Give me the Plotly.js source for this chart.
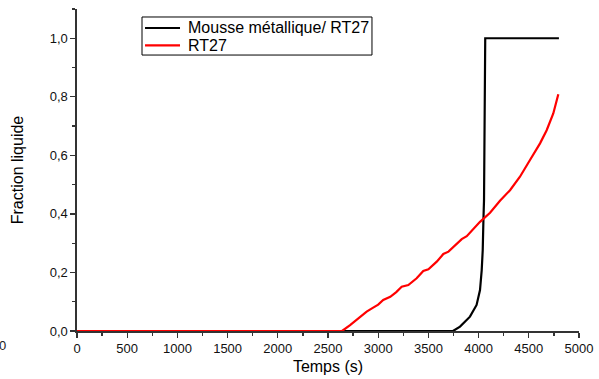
<!DOCTYPE html>
<html>
<head>
<meta charset="utf-8">
<script src="https://cdn.plot.ly/plotly-3.0.1.min.js"></script>
<style>
  html, body { margin: 0; padding: 0; background: #fff; }
  #chart { width: 599px; height: 379px; }
</style>
</head>
<body>
<div id="chart"></div>
<script>
// Liquid fraction over time (s)
const seriesNames = ["Mousse métallique/ RT27", "RT27"];
const seriesColors = ["#000000", "#ff0000"];

const foamTime = [0, 3745, 3815, 3914, 3980, 4014, 4031, 4041, 4048, 4054, 4066, 4080, 4800];
const foamFrac = [0, 0, 0.015, 0.049, 0.089, 0.14, 0.208, 0.276, 0.379, 0.447, 1.0, 1.0, 1.0];

const pcmTime = [0, 2640, 2720, 2800, 2885, 2950, 3000, 3050, 3120, 3180, 3234, 3300, 3383, 3449,
                 3500, 3583, 3649, 3700, 3750, 3832, 3882, 3948, 4014, 4114, 4213, 4313, 4412,
                 4512, 4612, 4678, 4744, 4794];
const pcmFrac = [0, 0, 0.02, 0.043, 0.066, 0.08, 0.09, 0.106, 0.117, 0.133, 0.151, 0.157, 0.18, 0.205,
                 0.211, 0.237, 0.263, 0.271, 0.288, 0.314, 0.324, 0.347, 0.373, 0.404, 0.445, 0.481, 0.527,
                 0.584, 0.641, 0.686, 0.743, 0.809];

const xTickVals = [0, 500, 1000, 1500, 2000, 2500, 3000, 3500, 4000, 4500, 5000];
const yTickVals = [0, 0.2, 0.4, 0.6, 0.8, 1.0];

const axisColor = "#333";
const family = "'Liberation Sans', Arial, sans-serif";
const tickFont = { family: family, size: 13, color: "#111" };
const titleFont = { family: family, size: 16, color: "#000" };

const traces = [
  { x: foamTime, y: foamFrac, name: seriesNames[0], type: "scatter", mode: "lines",
    line: { color: seriesColors[0], width: 2.2 } },
  { x: pcmTime, y: pcmFrac, name: seriesNames[1], type: "scatter", mode: "lines",
    line: { color: seriesColors[1], width: 2.2 } }
];

// Boxed key in the upper-left of the plot area (paper coordinates)
const key = { x0: 0.1295, x1: 0.5876, y0: 0.857, y1: 0.9752,
              lineX0: 0.1355, lineX1: 0.2052, textX: 0.2171, rows: [0.941, 0.887] };

const shapes = [
  { type: "rect", xref: "paper", yref: "paper", x0: key.x0, x1: key.x1, y0: key.y0, y1: key.y1,
    fillcolor: "#fff", line: { color: "#000", width: 1 }, layer: "above" }
].concat(seriesNames.map((n, i) => ({
  type: "line", xref: "paper", yref: "paper", x0: key.lineX0, x1: key.lineX1,
  y0: key.rows[i], y1: key.rows[i], line: { color: seriesColors[i], width: 2.2 }, layer: "above"
})));

const annotations = seriesNames.map((n, i) => ({
  text: n, xref: "paper", yref: "paper", x: key.textX, y: key.rows[i],
  xanchor: "left", yanchor: "middle", showarrow: false,
  font: { family: family, size: 16, color: "#000" }
})).concat([
  { text: "0", xref: "paper", yref: "paper", x: -0.148, y: -0.045,
    xanchor: "center", yanchor: "middle", showarrow: false,
    font: { family: family, size: 13, color: "#222" } }
]);

const layout = {
  width: 599, height: 379,
  margin: { l: 77, r: 20, t: 9, b: 48 },
  paper_bgcolor: "#fff", plot_bgcolor: "#fff",
  font: { family: family, size: 13, color: "#111" },
  separators: ", ",
  showlegend: false,
  xaxis: {
    range: [0, 5000], tickvals: xTickVals, ticktext: xTickVals.map(String),
    ticks: "outside", ticklen: 5, tickwidth: 1.3, tickcolor: axisColor,
    minor: { dtick: 250, ticks: "outside", ticklen: 3, tickwidth: 1.3, tickcolor: axisColor },
    showline: true, linecolor: axisColor, linewidth: 1.6,
    showgrid: false, zeroline: false,
    title: { text: "Temps (s)", font: titleFont, standoff: 5 },
    tickfont: tickFont
  },
  yaxis: {
    range: [0, 1.1], tickvals: yTickVals, tickformat: ".1f",
    ticks: "outside", ticklen: 5, tickwidth: 1.3, tickcolor: axisColor,
    minor: { dtick: 0.1, ticks: "outside", ticklen: 3, tickwidth: 1.3, tickcolor: axisColor },
    showline: true, linecolor: axisColor, linewidth: 1.6,
    showgrid: false, zeroline: false,
    title: { text: "Fraction liquide", font: titleFont, standoff: 22 },
    tickfont: tickFont
  },
  xaxis2: {
    overlaying: "x", anchor: "y", side: "top", range: [0, 5000],
    tickvals: xTickVals, showticklabels: false,
    ticks: "inside", ticklen: 4, tickwidth: 1.2, tickcolor: axisColor,
    minor: { dtick: 250, ticks: "inside", ticklen: 2, tickwidth: 1.2, tickcolor: axisColor },
    showline: true, linecolor: axisColor, linewidth: 1.4,
    showgrid: false, zeroline: false
  },
  yaxis2: {
    overlaying: "y", anchor: "x", side: "right", range: [0, 1.1],
    tickvals: yTickVals, showticklabels: false,
    ticks: "inside", ticklen: 4, tickwidth: 1.2, tickcolor: axisColor,
    minor: { dtick: 0.1, ticks: "inside", ticklen: 2, tickwidth: 1.2, tickcolor: axisColor },
    showline: true, linecolor: axisColor, linewidth: 1.4,
    showgrid: false, zeroline: false
  },
  shapes: shapes,
  annotations: annotations
};

Plotly.newPlot("chart", traces, layout, { staticPlot: true, displayModeBar: false });
</script>
</body>
</html>
